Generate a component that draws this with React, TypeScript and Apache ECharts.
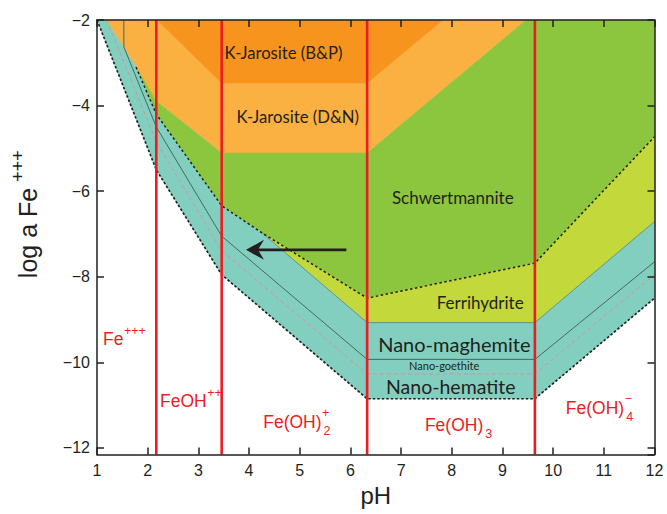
import React, { useEffect, useRef } from 'react';
import * as echarts from 'echarts';

// ---------- axes ----------
const PH_MIN = 1;
const PH_MAX = 12;
const LOG_MIN = -12.15;
const LOG_MAX = -2;

// ---------- Fe(III) hydrolysis boundaries (pH) ----------
const SPECIATION_PH = [2.17, 3.46, 6.33, 9.64];

// ---------- stability fields, vertices as [pH, log a Fe+++] ----------
const KJAROSITE_DN = [[1.18, -2], [9.47, -2], [6.33, -5.11], [3.46, -5.11], [2.17, -3.9], [1.77, -3.1]];
const KJAROSITE_BP = [[2.19, -2], [7.82, -2], [6.33, -3.47], [3.46, -3.47]];
const SCHWERTMANNITE = [[1.77, -3.1], [2.17, -3.9], [3.46, -5.11], [6.33, -5.11], [9.47, -2], [12, -2], [12, -4.73], [9.64, -7.68], [6.33, -8.5], [4.25, -6.97], [3.46, -6.34], [2.17, -4.2]];
const FERRIHYDRITE = [[4.25, -6.97], [6.33, -8.5], [9.64, -7.68], [12, -4.73], [12, -6.71], [9.64, -9.07], [6.33, -9.07]];
const NANO_PHASES = [[1, -2], [1.18, -2], [1.77, -3.1], [2.17, -4.2], [3.46, -6.34], [4.25, -6.97], [6.33, -9.07], [9.64, -9.07], [12, -6.71], [12, -8.5], [9.64, -10.85], [6.33, -10.85], [3.46, -7.95], [2.17, -5.5]];

// ---------- solubility lines ----------
const HEMATITE_LINE = [[1, -2], [2.17, -5.5], [3.46, -7.95], [6.33, -10.85], [9.64, -10.85], [12, -8.5]];
const SCHWERT_LINE = [[1.77, -3.1], [2.17, -4.2], [3.46, -6.34], [4.25, -6.97], [6.33, -8.5], [9.64, -7.68], [12, -4.73]];
const FERRI_LINE = [[4.25, -6.97], [6.33, -9.07], [9.64, -9.07], [12, -6.71]];
const MAGHEMITE_LINE = [[1.53, -2], [1.53, -2.63], [2.17, -4.5], [3.46, -7.05], [6.33, -9.93], [9.64, -9.93], [12, -7.65]];
const GOETHITE_LINE = [[1.19, -2], [2.17, -4.85], [3.46, -7.39], [6.33, -10.27], [9.64, -10.27], [12, -7.95]];

// ---------- annotations ----------
const MINERAL_NAMES = ['K-Jarosite (B&P)', 'K-Jarosite (D&N)', 'Schwertmannite', 'Ferrihydrite', 'Nano-maghemite', 'Nano-goethite', 'Nano-hematite'];
const MINERAL_PH = [4.68, 4.96, 8.02, 8.56, 8.05, 7.85, 7.98];
const MINERAL_LOG = [-2.77, -4.27, -6.14, -8.59, -9.57, -10.08, -10.57];

const ION_BASE = ['Fe', 'FeOH', 'Fe(OH)', 'Fe(OH)', 'Fe(OH)'];
const ION_SUP = ['+++', '++', '+', '', '−'];
const ION_SUB = ['', '', '2', '3', '4'];
const ION_PH = [1.12, 2.243, 4.28, 7.47, 10.25];
const ION_LOG = [-9.45, -10.9, -11.39, -11.46, -11.07];

const ARROW_FROM = [5.92, -7.37];
const ARROW_TO = [3.94, -7.37];

// ---------- styles ----------
const INK = '#231F20';
const RED = '#ED1C24';
const AXIS_FONT = '"Liberation Sans", Arial, sans-serif';
const LABEL_FONT = 'Lato, "Liberation Sans", sans-serif';
const MINERAL_SIZE = [16.7, 16.7, 17, 17, 20, 11, 19.5];

const FIELDS = [
  { pts: KJAROSITE_DN, color: '#FBB042' },
  { pts: KJAROSITE_BP, color: '#F7941E' },
  { pts: SCHWERTMANNITE, color: '#8CC63F' },
  { pts: FERRIHYDRITE, color: '#C2D83B' },
  { pts: NANO_PHASES, color: '#82CFBF' },
];

let measureCtx: CanvasRenderingContext2D | null = null;
function textWidth(t: string, font: string): number {
  if (!measureCtx) measureCtx = document.createElement('canvas').getContext('2d');
  if (!measureCtx) return t.length * 9;
  measureCtx.font = font;
  return measureCtx.measureText(t).width;
}

function lineSeries(data: number[][], lineStyle: any, z: number) {
  return {
    type: 'line',
    data,
    symbol: 'none',
    silent: true,
    z,
    lineStyle,
    emphasis: { disabled: true },
  };
}

const axisLineStyle = { color: INK, width: 1.5 };
const minus = (v: number) => (v < 0 ? '−' + Math.abs(v) : String(v));

function buildOption() {
  const series: any[] = [];

  series.push({
    type: 'custom',
    z: 1,
    silent: true,
    data: FIELDS.map((f, i) => [f.pts[0][0], f.pts[0][1], i]),
    renderItem: (params: any, api: any) => {
      const f = FIELDS[params.dataIndex];
      return {
        type: 'polygon',
        shape: { points: f.pts.map((p) => api.coord(p)) },
        style: { fill: f.color, stroke: f.color, lineWidth: 0.6 },
      };
    },
  });

  series.push(lineSeries(FERRI_LINE, { color: '#4F7F73', width: 0.9, opacity: 0.8 }, 3));
  series.push(lineSeries(MAGHEMITE_LINE, { color: '#4A6661', width: 1 }, 3));
  series.push(lineSeries(GOETHITE_LINE, { color: '#D98E9E', width: 1, type: [4, 3] }, 3));
  series.push(lineSeries(HEMATITE_LINE, { color: INK, width: 1.7, type: [2.5, 2] }, 3));
  series.push(lineSeries(SCHWERT_LINE, { color: INK, width: 1.5, type: [2.5, 2.5] }, 3));

  SPECIATION_PH.forEach((ph) => {
    series.push(lineSeries([[ph, LOG_MIN], [ph, LOG_MAX]], { color: RED, width: 2.6 }, 4));
  });

  // mineral names
  series.push({
    type: 'custom',
    z: 5,
    silent: true,
    data: MINERAL_NAMES.map((_, i) => [MINERAL_PH[i], MINERAL_LOG[i], i]),
    renderItem: (params: any, api: any) => {
      const i = params.dataIndex;
      const c = api.coord([MINERAL_PH[i], MINERAL_LOG[i]]);
      return {
        type: 'text',
        x: c[0],
        y: c[1],
        style: {
          text: MINERAL_NAMES[i],
          fill: INK,
          font: `${MINERAL_SIZE[i]}px ${LABEL_FONT}`,
          align: 'center',
          verticalAlign: 'middle',
        },
      };
    },
  });

  // aqueous species labels
  series.push({
    type: 'custom',
    z: 5,
    silent: true,
    data: ION_BASE.map((_, i) => [ION_PH[i], ION_LOG[i], i]),
    renderItem: (params: any, api: any) => {
      const i = params.dataIndex;
      const c = api.coord([ION_PH[i], ION_LOG[i]]);
      const mainFont = `17.5px ${AXIS_FONT}`;
      const smallFont = `12.5px ${AXIS_FONT}`;
      const w = textWidth(ION_BASE[i], mainFont);
      const children: any[] = [
        { type: 'text', x: 0, y: 0, style: { text: ION_BASE[i], fill: RED, font: mainFont, align: 'left', verticalAlign: 'middle' } },
      ];
      if (ION_SUP[i]) {
        children.push({ type: 'text', x: w + 0.5, y: ION_SUB[i] ? -9 : -8, style: { text: ION_SUP[i], fill: RED, font: smallFont, align: 'left', verticalAlign: 'middle' } });
      }
      if (ION_SUB[i]) {
        children.push({ type: 'text', x: w + 2, y: 9, style: { text: ION_SUB[i], fill: RED, font: smallFont, align: 'left', verticalAlign: 'middle' } });
      }
      return { type: 'group', x: c[0], y: c[1], children };
    },
  });

  // arrow
  series.push({
    type: 'custom',
    z: 6,
    silent: true,
    data: [[ARROW_FROM[0], ARROW_FROM[1]]],
    renderItem: (_params: any, api: any) => {
      const a = api.coord(ARROW_FROM);
      const b = api.coord(ARROW_TO);
      return {
        type: 'group',
        children: [
          { type: 'line', shape: { x1: a[0], y1: a[1], x2: b[0] + 12, y2: b[1] }, style: { stroke: INK, lineWidth: 2.6 } },
          {
            type: 'polygon',
            shape: { points: [[b[0], b[1]], [b[0] + 18, b[1] - 10], [b[0] + 12, b[1]], [b[0] + 18, b[1] + 10]] },
            style: { fill: INK },
          },
        ],
      };
    },
  });

  const tickStyle = { show: true, inside: true, length: 7, lineStyle: axisLineStyle };

  return {
    animation: false,
    backgroundColor: '#ffffff',
    grid: { left: 97, right: 12.5, top: 20, bottom: 59.6, containLabel: false },
    xAxis: [
      {
        type: 'value', min: PH_MIN, max: PH_MAX, interval: 1, position: 'bottom', z: 20,
        axisLine: { show: true, onZero: false, lineStyle: axisLineStyle },
        axisTick: tickStyle,
        axisLabel: { margin: 8, fontSize: 16, fontFamily: AXIS_FONT, color: INK },
        splitLine: { show: false },
        name: 'pH', nameLocation: 'middle', nameGap: 24,
        nameTextStyle: { fontSize: 24, fontFamily: AXIS_FONT, color: INK },
      },
      {
        type: 'value', min: PH_MIN, max: PH_MAX, interval: 1, position: 'top', z: 20,
        axisLine: { show: true, onZero: false, lineStyle: axisLineStyle },
        axisTick: tickStyle,
        axisLabel: { show: false },
        splitLine: { show: false },
      },
    ],
    yAxis: [
      {
        type: 'value', min: LOG_MIN, max: LOG_MAX, position: 'left', z: 20,
        axisLine: { show: true, onZero: false, lineStyle: axisLineStyle },
        axisTick: tickStyle,
        axisLabel: {
          margin: 7, fontSize: 16, fontFamily: AXIS_FONT, color: INK, showMinLabel: false,
          formatter: (v: number) => (Number.isInteger(v) ? minus(v) : ''),
        },
        splitLine: { show: false },
      },
      {
        type: 'value', min: LOG_MIN, max: LOG_MAX, position: 'right', z: 20,
        axisLine: { show: true, onZero: false, lineStyle: axisLineStyle },
        axisTick: tickStyle,
        axisLabel: { show: false },
        splitLine: { show: false },
      },
    ],
    graphic: [
      {
        type: 'text', x: 28, y: 233, rotation: Math.PI / 2, z: 30,
        style: { text: 'log a Fe', fill: INK, font: `25px ${AXIS_FONT}`, align: 'center', verticalAlign: 'middle' },
      },
      {
        type: 'text', x: 18, y: 166, rotation: Math.PI / 2, z: 30,
        style: { text: '+++', fill: INK, font: `18px ${AXIS_FONT}`, align: 'center', verticalAlign: 'middle' },
      },
    ],
    series,
  };
}

export default function App() {
  const ref = useRef<HTMLDivElement>(null);
  useEffect(() => {
    if (!ref.current) return;
    const chart = echarts.init(ref.current, null, { renderer: 'svg' });
    chart.setOption(buildOption() as any);
    return () => chart.dispose();
  }, []);
  return (
    <div
      ref={ref}
      style={{ position: 'fixed', left: 0, top: 0, width: 667, height: 514, background: '#fff' }}
    />
  );
}
